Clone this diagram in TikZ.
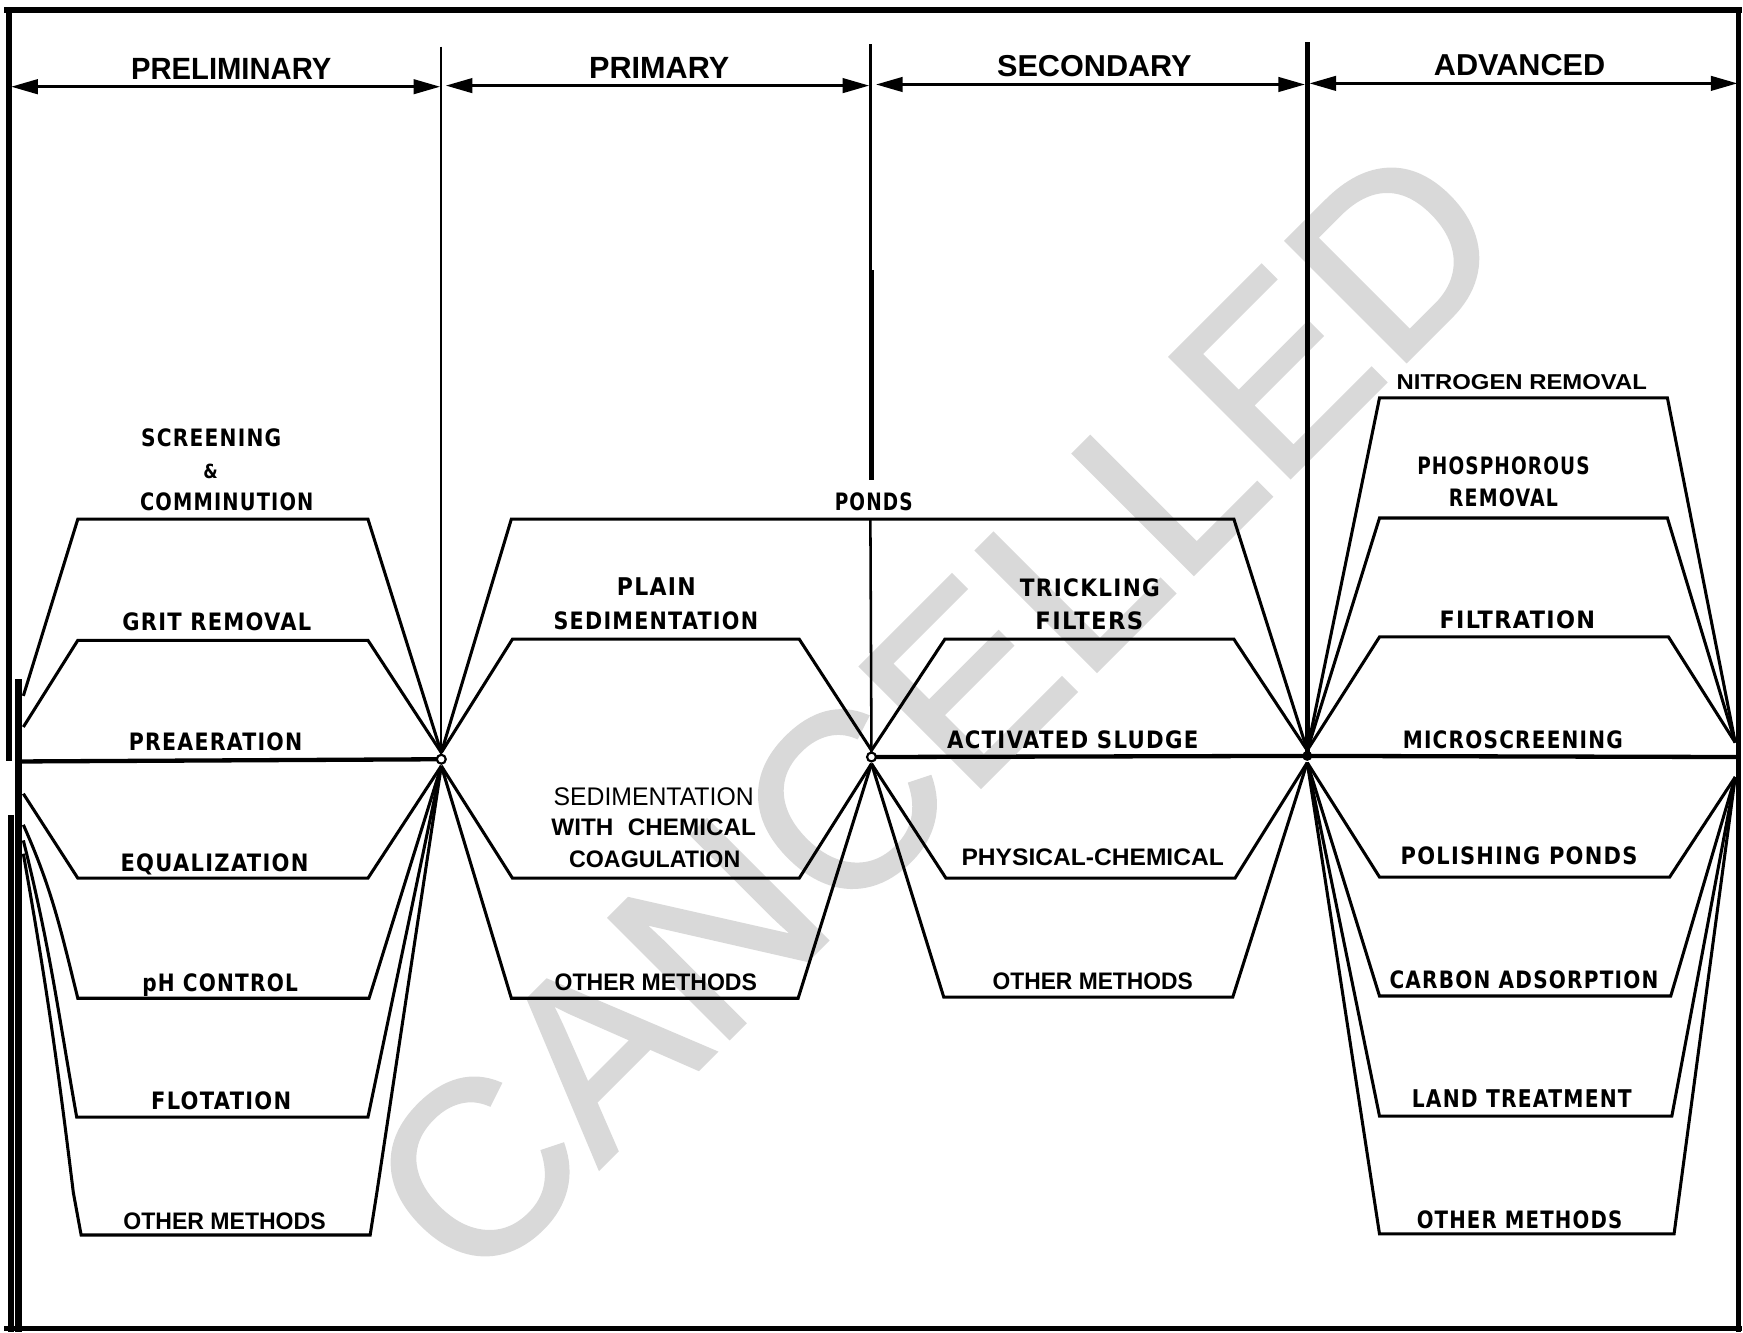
\documentclass[tikz,border=0pt]{standalone}
\usepackage{fontspec}
\usepackage{graphicx}
\usetikzlibrary{arrows.meta}
\setmainfont{Liberation Sans}
\newfontfamily\letterfont[LetterSpace=6]{DejaVu Sans}
\newfontfamily\stampfont[FakeBold=1.6]{Liberation Sans}
\newlength\px
\setlength\px{0.1mm}
% scale a label to a given width and cap height (in drawing units)
\newcommand\fitbox[3]{\resizebox{#1\px}{#2\px}{#3}}

\tikzset{
  trap/.style={line width=0.78pt},
  mainl/.style={line width=1.1pt},
  frame/.style={line width=1.45pt},
  span/.style={line width=0.75pt,
    {Triangle[length=2.4mm,width=1.3mm]}-{Triangle[length=2.4mm,width=1.3mm]}},
  lett/.style={inner sep=0pt, anchor=base, font=\letterfont\bfseries},
  arb/.style={inner sep=0pt, anchor=base, font=\bfseries},
  arl/.style={inner sep=0pt, anchor=base, font=\mdseries},
  hdr/.style={inner sep=0pt, anchor=base, font=\bfseries},
}

\begin{document}
\begin{tikzpicture}[x=0.1mm, y=-0.1mm]
\useasboundingbox (0,0) rectangle (1568,1199);

% watermark
\node[rotate=45, text=black!15, inner sep=0pt,
      font=\stampfont\fontsize{63}{63}\selectfont] (wm) at (842,640) {CANCELLED};

% outer frame
\draw[frame] (4,9) -- (1567,9);
\draw[frame] (8,7) -- (8,685);
\draw[line width=1.75pt] (16.6,611) -- (16.6,1198);
\draw[line width=1.5pt] (9.8,733) -- (9.8,1198);
\draw[frame] (4,1195) -- (1567,1195);
\draw[frame] (1564,7) -- (1564,1198);

% hubs
\coordinate (h1u) at (397,677); \coordinate (h1) at (397,683); \coordinate (h1d) at (397,689);
\coordinate (h2u) at (784,675); \coordinate (h2) at (784,681); \coordinate (h2d) at (784,687);
\coordinate (h3u) at (1176,675); \coordinate (h3) at (1176,680); \coordinate (h3d) at (1176,686);
\coordinate (ru) at (1561,668); \coordinate (re) at (1562,681); \coordinate (rd) at (1561,699);

% stage dividers
\draw[line width=0.55pt] (397,42) -- (h1);
\draw[line width=0.65pt] (783,40) -- (783,243);
\draw[line width=1.2pt] (784,243) -- (784,432);
\draw[line width=0.65pt] (783,467) -- (h2);
\draw[line width=1.25pt] (1176,38) -- (h3);

% stage spans
\coordinate (s0l) at (10,78);   \coordinate (s0r) at (396,78);
\coordinate (s1l) at (401,77);  \coordinate (s1r) at (782,77);
\coordinate (s2l) at (788,76);  \coordinate (s2r) at (1174,76);
\coordinate (s3l) at (1178,75); \coordinate (s3r) at (1563,75);
\draw[span] (s0l) -- (s0r);
\draw[span] (s1l) -- (s1r);
\draw[span] (s2l) -- (s2r);
\draw[span] (s3l) -- (s3r);

\node[hdr] (hPre) at (208,71.5)  {\fitbox{180}{19}{PRELIMINARY}};
\node[hdr] (hPri) at (593,70.5)  {\fitbox{126}{19}{PRIMARY}};
\node[hdr] (hSec) at (984.5,68.5) {\fitbox{175}{19}{SECONDARY}};
\node[hdr] (hAdv) at (1367,67.5) {\fitbox{154}{19}{ADVANCED}};

% preliminary treatment paths
\coordinate (L1) at (21,626); \coordinate (L2) at (21,654); \coordinate (Lm) at (19,685);
\coordinate (L3) at (21,714); \coordinate (L4) at (21,742); \coordinate (L5) at (21,756);
\coordinate (L6) at (21,768);
\draw[trap] (L1) -- (70,467) -- (331,467) -- (h1u);
\draw[trap] (L2) -- (70,576) -- (331,576) -- (h1u);
\draw[mainl] (Lm) -- (h1);
\draw[trap] (L3) -- (70,790) -- (331,790) -- (h1d);
\draw[trap] (L4) to[out=-66,in=104] (70,898) -- (332,898) -- (h1d);
\draw[trap] (L5) to[out=-76,in=100] (69,1005) -- (331,1005) -- (h1d);
\draw[trap] (L6) to[out=-80,in=97] (66,1073) -- (73,1111) -- (333,1111) -- (339,1073) -- (h1d);

% primary treatment paths
\draw[trap] (h1u) -- (460,467) -- (1110,467) -- (h3u);
\draw[trap] (h1u) -- (461,575) -- (719,575) -- (h2u);
\draw[trap] (h1d) -- (461,790) -- (719,790) -- (h2d);
\draw[trap] (h1d) -- (460,898) -- (718,898) -- (h2d);

% secondary treatment paths
\draw[trap] (h2u) -- (850,575) -- (1110,575) -- (h3u);
\draw[mainl] (h2) -- (h3);
\draw[trap] (h2d) -- (851,790) -- (1111,790) -- (h3d);
\draw[trap] (h2d) -- (849,897) -- (1109,897) -- (h3d);

% advanced treatment paths
\draw[trap] (h3u) -- (1241,358) -- (1500,358) -- (ru);
\draw[trap] (h3u) -- (1241,466) -- (1500,466) -- (ru);
\draw[trap] (h3u) -- (1241,573) -- (1501,573) -- (ru);
\draw[mainl] (h3) -- (re);
\draw[trap] (h3d) -- (1241,789) -- (1502,789) -- (rd);
\draw[trap] (h3d) -- (1241,896) -- (1503,896) -- (rd);
\draw[trap] (h3d) -- (1241,1004) -- (1504,1004) -- (rd);
\draw[trap] (h3d) -- (1241,1110) -- (1506,1110) -- (rd);

% junction marks
\draw[line width=0.55pt, fill=white] (h1) circle[radius=0.4mm];
\draw[line width=0.55pt, fill=white] (h2) circle[radius=0.4mm];
\fill (h3) circle[radius=0.45mm];

% preliminary labels
\node[lett] (tScr) at (190,402)  {\fitbox{126}{16}{SCREENING}};
\node[lett] (tAmp) at (189.5,430) {\fitbox{13}{13}{\&}};
\node[lett] (tCom) at (204,459)  {\fitbox{156}{16}{COMMINUTION}};
\node[lett] (tGri) at (195,567)  {\fitbox{170}{16}{GRIT REMOVAL}};
\node[lett] (tPre) at (194,675)  {\fitbox{156}{16}{PREAERATION}};
\node[lett] (tEqu) at (193,784)  {\fitbox{169}{16}{EQUALIZATION}};
\node[lett] (tPh)  at (198,892)  {\fitbox{140}{16}{pH CONTROL}};
\node[lett] (tFlo) at (199,998)  {\fitbox{126}{16}{FLOTATION}};
\node[arb]  (tOt1) at (202,1106) {\fitbox{182}{15}{OTHER METHODS}};

% primary labels
\node[lett] (tPon) at (786,459)  {\fitbox{70}{16}{PONDS}};
\node[lett] (tPla) at (590.5,536) {\fitbox{71}{16}{PLAIN}};
\node[lett] (tSed) at (590,566)  {\fitbox{184}{16}{SEDIMENTATION}};
\node[arl]  (tSe2) at (588,725)  {\fitbox{180}{16}{SEDIMENTATION}};
\node[arb]  (tWit) at (588,752)  {\fitbox{184}{15}{WITH\hspace{0.6em}CHEMICAL}};
\node[arb]  (tCoa) at (589,780)  {\fitbox{154}{15}{COAGULATION}};
\node[arb]  (tOt2) at (590,891)  {\fitbox{182}{15}{OTHER METHODS}};

% secondary labels
\node[lett] (tTri) at (980.5,537) {\fitbox{126}{16}{TRICKLING}};
\node[lett] (tFil) at (980,566)  {\fitbox{97}{16}{FILTERS}};
\node[lett] (tAct) at (965,673)  {\fitbox{226}{16}{ACTIVATED SLUDGE}};
\node[arb]  (tPhy) at (983,779)  {\fitbox{236}{15}{PHYSICAL-CHEMICAL}};
\node[arb]  (tOt3) at (983,890)  {\fitbox{180}{15}{OTHER METHODS}};

% advanced labels
\node[arb]  (tNit) at (1369,350) {\fitbox{225}{13.5}{NITROGEN REMOVAL}};
\node[lett] (tPho) at (1352.5,427) {\fitbox{155}{16}{PHOSPHOROUS}};
\node[lett] (tRem) at (1352.5,456) {\fitbox{98}{16}{REMOVAL}};
\node[lett] (tFit) at (1365,565) {\fitbox{140}{16}{FILTRATION}};
\node[lett] (tMic) at (1361,673) {\fitbox{198}{16}{MICROSCREENING}};
\node[lett] (tPol) at (1366.5,778) {\fitbox{213}{16}{POLISHING PONDS}};
\node[lett] (tCar) at (1371,889) {\fitbox{242}{16}{CARBON ADSORPTION}};
\node[lett] (tLan) at (1369,996) {\fitbox{198}{16}{LAND TREATMENT}};
\node[lett] (tOt4) at (1367,1105) {\fitbox{185}{16}{OTHER METHODS}};
\end{tikzpicture}
\end{document}
